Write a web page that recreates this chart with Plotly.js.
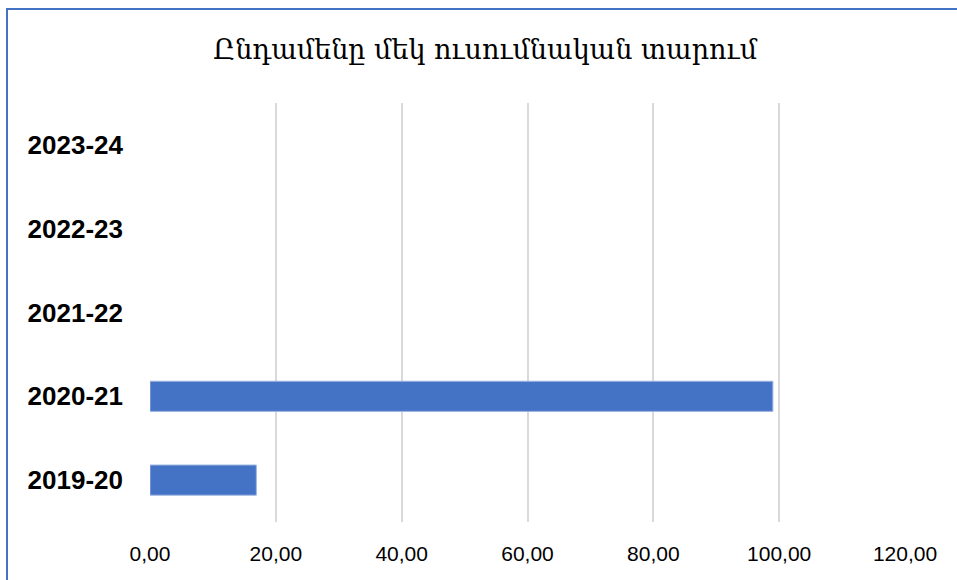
<!DOCTYPE html>
<html>
<head>
<meta charset="utf-8">
<script src="https://cdn.plot.ly/plotly-3.0.1.min.js"></script>
<style>
  body { margin: 0; background: #fff; }
  #wrap { position: relative; width: 957px; height: 580px; overflow: hidden; }
  #frame { position: absolute; left: 6px; top: 8px; width: 1000px; height: 700px;
           border-left: 2px solid #4472C4; border-top: 2px solid #4472C4; pointer-events: none; }
  #graph { position: absolute; left: 0; top: 0; width: 957px; height: 580px; }
</style>
</head>
<body>
<div id="wrap">
  <div id="graph"></div>
  <div id="frame"></div>
</div>
<script>
// տվյալներ
const years = ["2019-20", "2020-21", "2021-22", "2022-23", "2023-24"];
const values = [16.9, 99, 0, 0, 0];
const xTicks = [0, 20, 40, 60, 80, 100, 120];

const trace = {
  type: "bar",
  orientation: "h",
  y: years,
  x: values,
  width: 0.36,
  marker: {
    color: "#4472C4",
    // զրոյական սյուների եզրագիծը չի երևում
    line: { color: "#9DB6E3", width: values.map(v => (v > 0 ? 1 : 0)) }
  },
  hoverinfo: "x+y"
};

const layout = {
  width: 957,
  height: 580,
  margin: { l: 150, r: 52, t: 103, b: 58 },
  paper_bgcolor: "#ffffff",
  plot_bgcolor: "#ffffff",
  separators: ", ",
  showlegend: false,
  title: {
    text: "Ընդամենը մեկ ուսումնական տարում",
    font: { family: "DejaVu Serif, serif", size: 27, color: "#000" },
    x: 0.507, xref: "container", y: 0.915, yanchor: "middle"
  },
  xaxis: {
    range: [0, 120],
    tickvals: xTicks,
    tickformat: ".2f",
    showgrid: true,
    gridcolor: "#D9D9D9",
    gridwidth: 2,
    zeroline: false,
    showline: false,
    ticks: "",
    ticklabelstandoff: 17,
    tickfont: { family: "Liberation Sans, Arial, sans-serif", size: 21, color: "#000" }
  },
  yaxis: {
    type: "category",
    categoryorder: "array",
    categoryarray: years,
    range: [-0.5, 4.5],
    showgrid: false,
    zeroline: false,
    showline: false,
    ticks: "",
    ticklabelstandoff: 26,
    tickfont: { family: "Liberation Sans, Arial, sans-serif", size: 26, color: "#000", weight: "bold" }
  }
};

Plotly.newPlot("graph", [trace], layout, { displayModeBar: false, staticPlot: true });
</script>
</body>
</html>
